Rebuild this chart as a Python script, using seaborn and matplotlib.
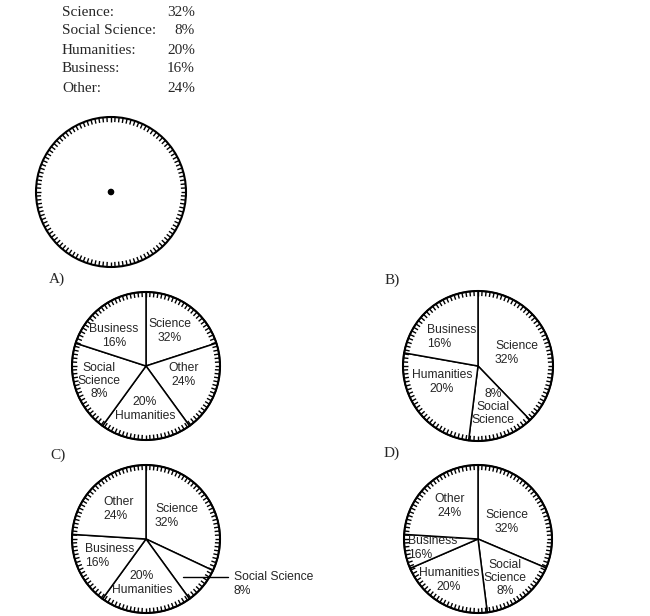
import numpy as np
import seaborn as sns
import matplotlib.pyplot as plt

# Datos de la tabla
categorias = ["Science:", "Social Science:", "Humanities:", "Business:", "Other:"]
porcentajes = ["32%", "8%", "20%", "16%", "24%"]

# Proporciones dibujadas en cada opcion (sentido horario desde arriba)
partes_a = [20, 20, 20, 20, 20]
partes_b = [37.8, 14.2, 25.8, 22.2]
partes_c = [32, 8, 20, 16, 24]
partes_d = [31.4, 16.6, 20.5, 7.5, 24]

# Etiquetas de cada opcion: (texto, x, y, alineacion)
etiquetas_a = [("Science\n32%", 170, 331, "center"), ("Other\n24%", 184, 375, "center"),
               ("20%\nHumanities", 145, 409, "center"), ("Social\nScience\n8%", 99, 381, "center"),
               ("Business\n16%", 114, 336, "center")]
etiquetas_b = [("Science\n32%", 495, 353, "left"), ("8%\nSocial\nScience", 493, 407, "center"),
               ("Humanities\n20%", 442, 382, "center"), ("Business\n16%", 427, 337, "left")]
etiquetas_c = [("Science\n32%", 155, 516, "left"), ("20%\nHumanities", 142, 583, "center"),
               ("Business\n16%", 85, 556, "left"), ("Other\n24%", 103, 509, "left"),
               ("Social Science\n8%", 234, 584, "left")]
etiquetas_d = [("Science\n32%", 507, 522, "center"), ("Social\nScience\n8%", 505, 578, "center"),
               ("Humanities\n20%", 449, 580, "center"), ("Business\n16%", 408, 548, "left"),
               ("Other\n24%", 450, 506, "center")]

opciones = [("A)", 57, 279, 146, 366, 74, partes_a, etiquetas_a),
            ("B)", 392, 280, 478, 366, 75, partes_b, etiquetas_b),
            ("C)", 58, 455, 146, 539, 74, partes_c, etiquetas_c),
            ("D)", 392, 453, 478, 539, 74, partes_d, etiquetas_d)]

sns.set_theme(style="white")
plt.rcParams["font.family"] = ["Liberation Sans", "DejaVu Sans"]

fig = plt.figure(figsize=(6.5, 6.16), dpi=100)
ax = fig.add_axes([0, 0, 1, 1])


def marcas(cx, cy, r, n=116, largo=5):
    # pequeñas marcas radiales en el borde del circulo
    ang = np.linspace(0, 2 * np.pi, n, endpoint=False)
    for a in ang:
        ax.plot([cx + r * np.cos(a), cx + (r - largo) * np.cos(a)],
                [cy + r * np.sin(a), cy + (r - largo) * np.sin(a)],
                color="black", lw=1.0, solid_capstyle="butt")
    ax.add_patch(plt.Circle((cx, cy), r, fill=False, ec="black", lw=1.5))


# Tabla superior
for i, (cat, pct) in enumerate(zip(categorias, porcentajes)):
    y = 12 + i * 19
    ax.text(62, y, cat, family="Liberation Serif", fontsize=11, va="center", ha="left")
    ax.text(195, y, pct, family="Liberation Serif", fontsize=11, va="center", ha="right")

# Circulo vacio
marcas(111, 192, 75)
ax.add_patch(plt.Circle((111, 192), 2.6, color="black"))

# Opciones
for letra, lx, ly, cx, cy, r, partes, etiquetas in opciones:
    ax.text(lx, ly, letra, family="Liberation Serif", fontsize=11, va="center", ha="center")
    ax.pie(partes, center=(cx, cy), radius=r, startangle=-90, counterclock=True,
           wedgeprops=dict(facecolor="white", edgecolor="black", linewidth=1.1), frame=True)
    marcas(cx, cy, r)
    for txt, tx, ty, al in etiquetas:
        ax.text(tx, ty, txt, fontsize=8.7, ha=al, va="center", linespacing=1.15,
                multialignment=al)

# Linea guia de Social Science en C
ax.plot([183, 228], [577, 577], color="black", lw=1)

ax.set_xlim(0, 650)
ax.set_ylim(616, 0)
ax.set_axis_off()
plt.savefig("out.png", dpi=100)
